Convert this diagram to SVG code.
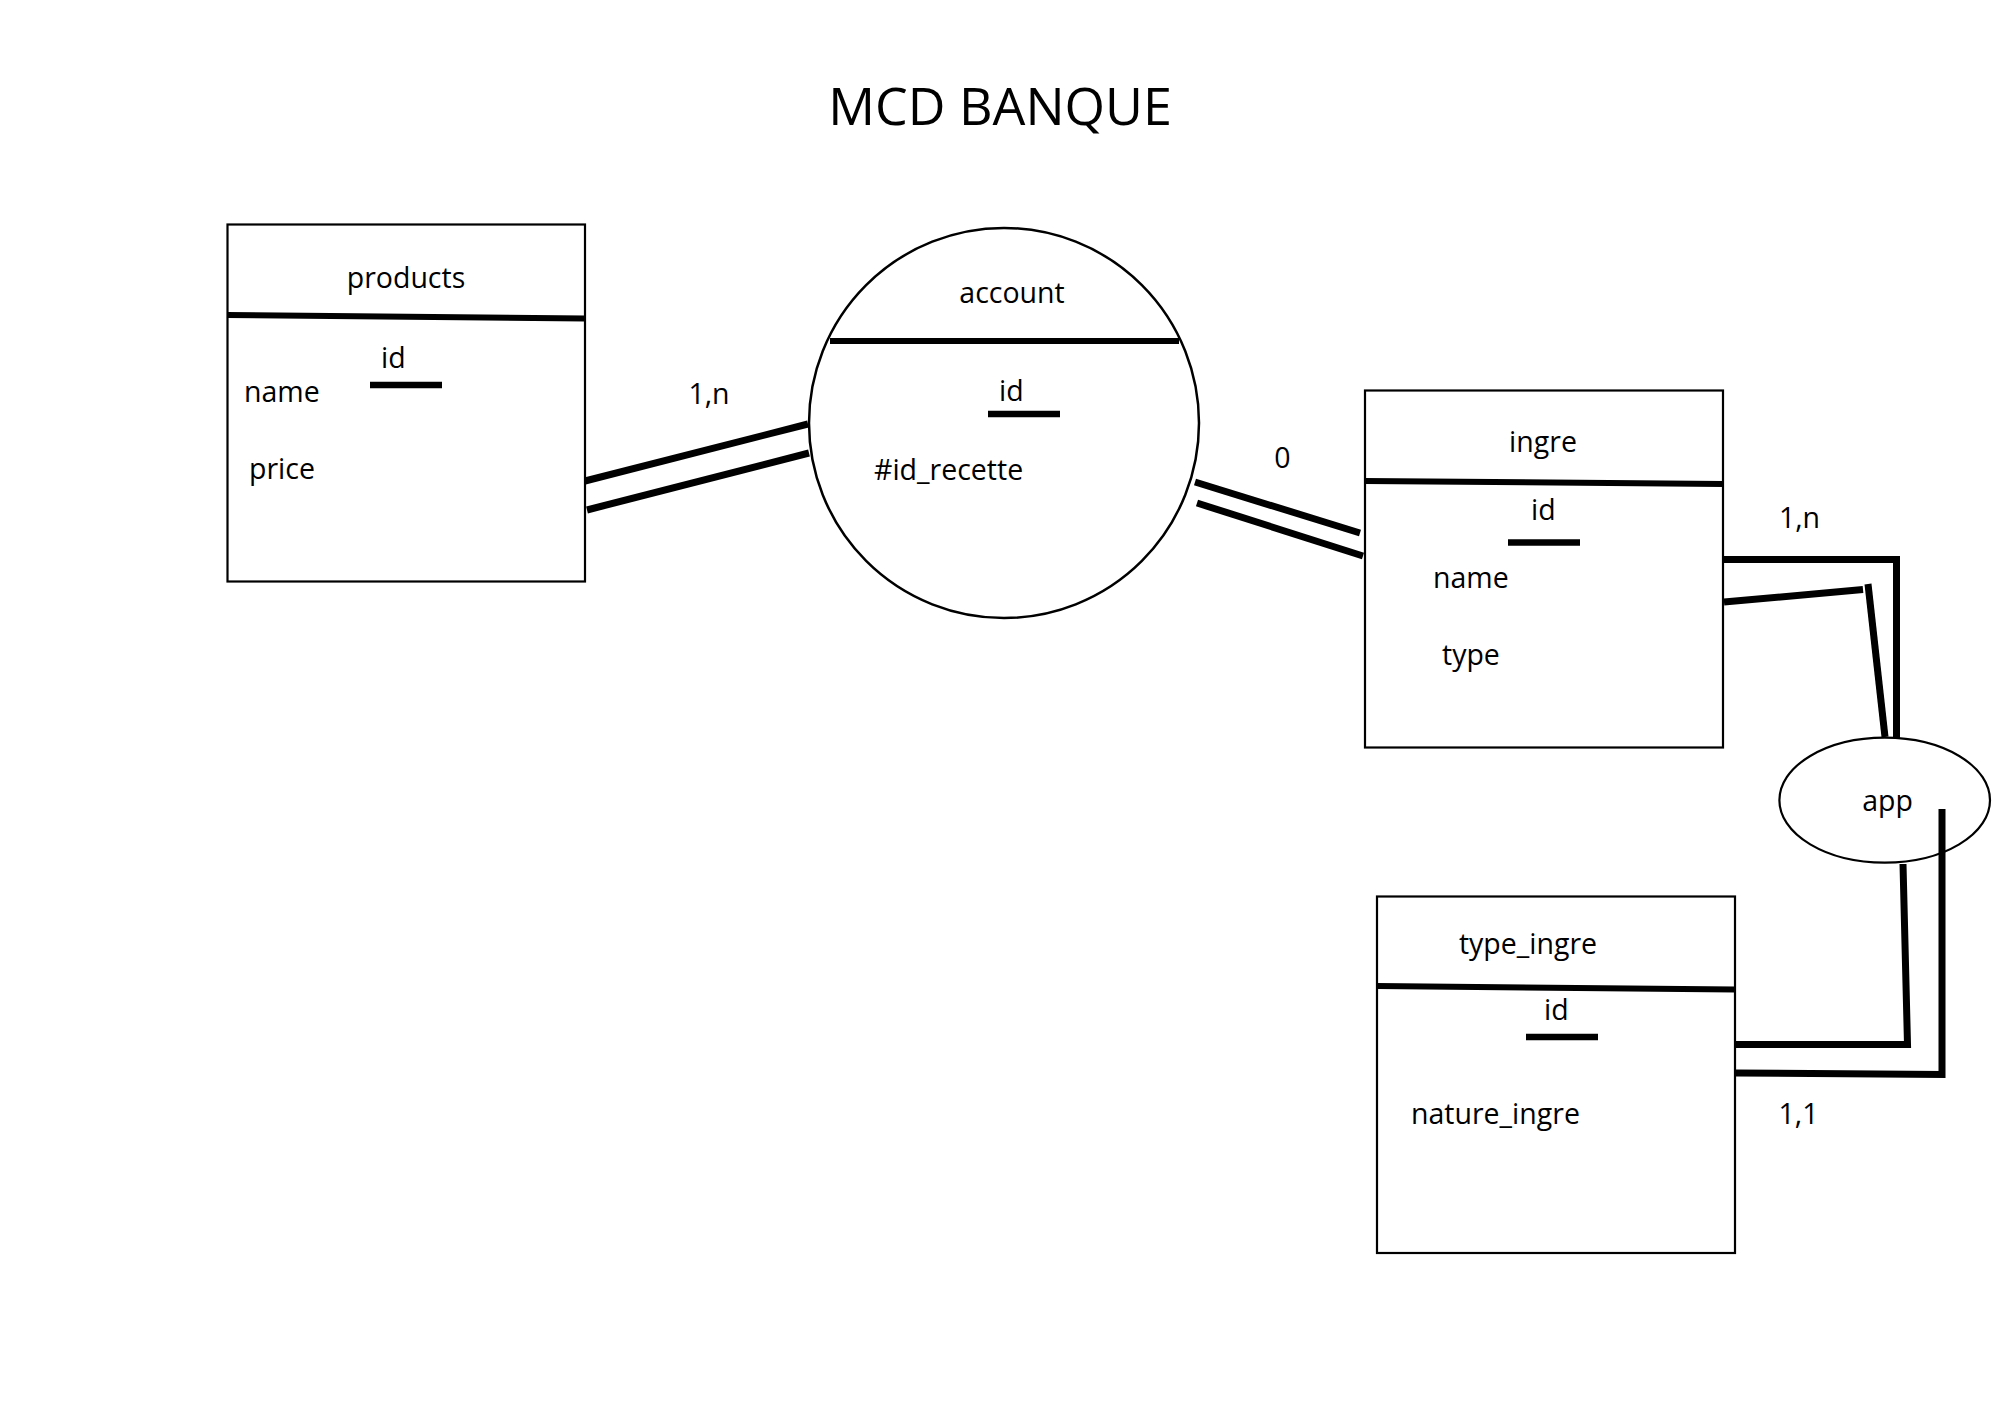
<svg xmlns="http://www.w3.org/2000/svg" width="2000" height="1414" viewBox="0 0 2000 1414">
<style>
text{font-family:"Open Sans","Noto Sans","Liberation Sans",sans-serif;font-size:28.5px;fill:#000}
.c{text-anchor:middle}
.box{fill:#fff;stroke:#000;stroke-width:2.2}
.sep{stroke:#000;stroke-width:6;fill:none}
.key{stroke:#000;stroke-width:6.5}
.lnk{stroke:#000;stroke-width:7;fill:none}
</style>
<rect width="2000" height="1414" fill="#fff"/>
<text x="1000" y="125" class="c" style="font-size:52px">MCD BANQUE</text>
<g id="connectors">
<line class="lnk" x1="585" y1="481" x2="808" y2="424"/>
<line class="lnk" x1="587" y1="510" x2="809" y2="453"/>
<line class="lnk" x1="1195" y1="482" x2="1360" y2="533"/>
<line class="lnk" x1="1197" y1="503" x2="1363" y2="556"/>
<polyline class="lnk" points="1724,559.5 1896.5,559.5 1896.5,738"/>
<line class="lnk" x1="1724" y1="602" x2="1863" y2="589.5"/>
<line class="lnk" x1="1868" y1="584" x2="1885" y2="737"/>
<polyline class="lnk" points="1903,864 1907.5,1044.5 1736,1044.5"/>
<polyline class="lnk" points="1942,809 1942,1074.5 1736,1073"/>
</g>
<g id="products">
<rect class="box" x="227.5" y="224.5" width="357.5" height="357"/>
<line class="sep" x1="227" y1="315" x2="585" y2="318.5"/>
<text x="406" y="288" class="c">products</text>
<text x="381" y="368">id</text>
<line class="key" x1="370" y1="385" x2="442" y2="385"/>
<text x="244" y="402">name</text>
<text x="249" y="479">price</text>
</g>
<g id="account">
<circle cx="1004" cy="423" r="195" fill="none" stroke="#000" stroke-width="2.5"/>
<line class="sep" x1="830" y1="341" x2="1179" y2="341"/>
<text x="1012" y="303" class="c">account</text>
<text x="999" y="401">id</text>
<line class="key" x1="988" y1="414" x2="1060" y2="414"/>
<text x="874" y="480">#id_recette</text>
</g>
<text x="1282.5" y="468" class="c">0</text>
<text x="709" y="404" class="c">1,n</text>
<g id="ingre">
<rect class="box" x="1365" y="390.5" width="358" height="357"/>
<line class="sep" x1="1365" y1="481" x2="1723" y2="484"/>
<text x="1543" y="452" class="c">ingre</text>
<text x="1531" y="520">id</text>
<line class="key" x1="1508" y1="542.5" x2="1580" y2="542.5"/>
<text x="1433" y="588">name</text>
<text x="1442" y="665">type</text>
</g>
<text x="1799.5" y="528" class="c">1,n</text>
<g id="app">
<ellipse cx="1884.7" cy="800.2" rx="105.3" ry="62.5" fill="none" stroke="#000" stroke-width="2.2"/>
<text x="1887.5" y="811" class="c">app</text>
</g>
<g id="type_ingre">
<rect class="box" x="1377" y="896.5" width="358" height="356.5"/>
<line class="sep" x1="1377" y1="986" x2="1735" y2="989.5"/>
<text x="1528" y="954" class="c">type_ingre</text>
<text x="1544" y="1020">id</text>
<line class="key" x1="1526" y1="1037" x2="1598" y2="1037"/>
<text x="1411" y="1124">nature_ingre</text>
</g>
<text x="1798.5" y="1124" class="c">1,1</text>
</svg>
